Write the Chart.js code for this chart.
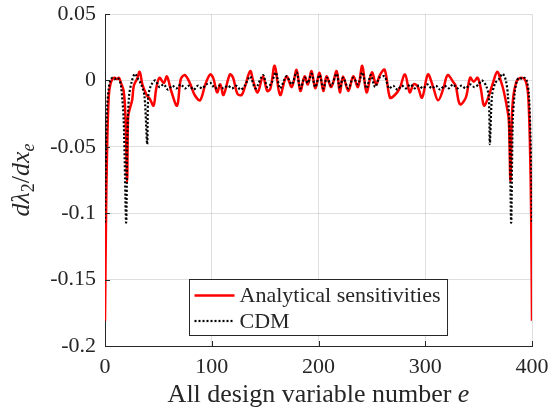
<!DOCTYPE html>
<html>
<head>
<meta charset="utf-8">
<script src="https://cdn.jsdelivr.net/npm/chart.js@4"></script>
<style>
  html, body { margin: 0; padding: 0; background: #fff; }
  canvas { display: block; }
</style>
</head>
<body>
<canvas id="chart" width="556" height="415"></canvas>
<script>
// values (element number e vs. d lambda_2 / d x_e)
const redX = [0, 1, 2, 3.5, 5, 7, 9, 11, 13, 15, 17.5, 19.2, 20.7, 21.6, 23, 25.4, 27, 30, 32.5, 35,
  39, 42, 45.5, 48, 51, 55, 58, 62, 67.5, 71, 75, 80, 84, 89, 94, 98.5, 101.5, 105, 108, 111,
  117, 120, 124, 128, 131, 136, 139, 143, 148, 152, 155, 159, 164, 170, 175, 179.5, 183, 187, 190, 193.5,
  197, 201, 204.5, 207.5, 212, 217, 220, 223, 228, 232.5, 237, 241, 245, 250, 254, 257.5, 262, 267, 271.5, 276,
  281, 285.5, 289, 292.5, 297, 302.5, 307, 312, 317, 321, 326, 328.5, 332.5, 338, 342, 345.5, 349, 352, 355, 358.5,
  363, 367.5, 371, 373.5, 376.5, 378.3, 379.8, 381, 382.5, 385, 387, 390, 393, 395, 396.5, 398, 399.2, 400]
const redY = [-0.181, -0.1, -0.05, -0.012, -0.003, 0.001, 0.002, 0.001, 0.002, -0.002, -0.008, -0.028, -0.076, -0.028, -0.022, -0.015, -0.004, 0.001, 0.0065, -0.003,
  -0.011, -0.014, -0.019, -0.006, 0.002, -0.002, 0.003, -0.008, -0.019, 0.001, 0.004, -0.003, -0.011, -0.015, -0.003, 0.0045, 0.0015, -0.009, -0.003, -0.011,
  0.0045, 0.002, -0.01, -0.011, -0.005, 0.007, -0.001, -0.009, 0.003, -0.008, -0.006, 0.011, -0.011, 0.003, -0.005, 0.008, -0.008, 0.003, -0.003, 0.007,
  -0.006, 0.0057, -0.008, 0.003, -0.005, 0.007, -0.009, 0.003, -0.008, 0.003, -0.005, 0.011, -0.009, 0.006, -0.003, 0.004, 0.008, -0.013, -0.011, -0.006,
  0.0045, -0.009, -0.003, -0.004, -0.013, 0.0045, -0.004, -0.015, -0.006, 0.004, -0.001, -0.004, -0.018, -0.013, 0.002, -0.001, 0.002, -0.006, -0.019, -0.014,
  -0.003, 0.0065, -0.001, -0.008, -0.02, -0.03, -0.076, -0.03, -0.012, -0.002, 0.001, 0.002, 0.001, -0.003, -0.012, -0.045, -0.1, -0.181]

const cdmX = [0, 1, 2, 3.5, 5, 7, 9, 11, 13, 15, 17.5, 19.8, 21, 22.5, 25, 28, 31, 34, 37, 39.5,
  40.5, 43, 47, 51, 55, 59, 63, 67, 71, 75, 79, 83, 87, 91, 95, 99, 103, 107, 111, 115,
  119, 123, 127, 131, 136, 141, 148, 152, 156, 160, 164, 170, 175, 179.5, 183, 187, 190, 193.5, 197, 201,
  204.5, 208, 212, 217, 220, 223, 228, 232.5, 237, 241, 245, 249, 253, 257, 262, 266, 270, 274, 278, 282,
  286, 290, 294, 298, 302, 306, 310, 314, 318, 322, 326, 330, 334, 338, 342, 346, 350, 353, 357, 359.5,
  360.5, 362.5, 365.5, 369, 372.5, 375.5, 377.5, 379, 380.5, 382, 384, 386, 388, 391, 393, 395, 397, 398.5, 399.3, 400]
const cdmY = [-0.107, -0.05, -0.02, -0.006, 0, 0.002, 0.001, 0.002, 0.001, -0.004, -0.03, -0.107, -0.04, -0.012, -0.001, 0.005, 0.001, -0.003, -0.012, -0.048,
  -0.012, -0.004, 0, -0.005, -0.003, -0.007, -0.004, -0.006, -0.003, -0.006, -0.004, -0.007, -0.004, -0.006, -0.003, -0.002, -0.006, -0.004, -0.006, -0.004,
  -0.006, -0.004, -0.007, -0.004, 0.003, -0.006, 0.004, -0.005, -0.002, 0.006, -0.006, 0.003, -0.003, 0.006, -0.006, 0.002, -0.002, 0.005, -0.005, 0.004,
  -0.006, 0.002, -0.004, 0.005, -0.006, 0.002, -0.006, 0.002, -0.003, 0.006, -0.006, 0.004, -0.005, 0.002, 0.003, -0.006, -0.004, -0.007, -0.004, -0.006,
  -0.003, -0.006, -0.004, -0.006, -0.003, -0.006, -0.004, -0.007, -0.004, -0.006, -0.003, -0.006, -0.004, -0.006, -0.003, -0.005, -0.003, 0, -0.004, -0.012,
  -0.048, -0.012, -0.002, 0.001, 0.005, 0, -0.012, -0.04, -0.107, -0.03, -0.008, 0, 0.002, 0.001, 0.002, 0, -0.01, -0.04, -0.07, -0.107]

const xTicks = [0, 100, 200, 300, 400]
const yTicks = [-0.2, -0.15, -0.1, -0.05, 0, 0.05]
const seriesLabels = ['Analytical sensitivities', 'CDM']

const serif = '"Liberation Serif", "Times New Roman", serif'
const ink = '#262626'
const gridColor = 'rgba(38,38,38,0.15)'

function points (xs, ys) {
  return xs.map((x, i) => ({ x: x, y: ys[i] }))
}

function fmt (v) {
  return String(Number(v.toFixed(2)))
}

// draws a run of [text, font, dy] pieces starting at x, returns the end x
function run (ctx, pieces, x) {
  pieces.forEach((p) => {
    ctx.font = p[1]
    ctx.fillText(p[0], x, p[2])
    x += ctx.measureText(p[0]).width
  })
  return x
}

function runWidth (ctx, pieces) {
  let w = 0
  pieces.forEach((p) => {
    ctx.font = p[1]
    w += ctx.measureText(p[0]).width
  })
  return w
}

const decorations = {
  id: 'decorations',
  afterDraw (chart) {
    const ctx = chart.ctx
    const area = chart.chartArea
    const sx = chart.scales.x
    const sy = chart.scales.y
    ctx.save()

    // inward tick marks, as in the original axes
    ctx.strokeStyle = ink
    ctx.lineWidth = 1
    ctx.beginPath()
    xTicks.forEach((v) => {
      const px = Math.round(sx.getPixelForValue(v)) + 0.5
      ctx.moveTo(px, area.bottom)
      ctx.lineTo(px, area.bottom - 5)
    })
    yTicks.forEach((v) => {
      const py = Math.round(sy.getPixelForValue(v)) + 0.5
      ctx.moveTo(area.left, py)
      ctx.lineTo(area.left + 5, py)
    })
    ctx.stroke()

    ctx.fillStyle = ink
    ctx.textBaseline = 'alphabetic'
    ctx.textAlign = 'left'

    // x axis title
    const big = '26px ' + serif
    const bigIt = 'italic 26px ' + serif
    const xt = [['All design variable number ', big, 0], ['e', bigIt, 0]]
    const xw = runWidth(ctx, xt)
    const cx = (area.left + area.right) / 2
    ctx.save()
    ctx.translate(cx - xw / 2, 402)
    run(ctx, xt, 0)
    ctx.restore()

    // y axis title
    const sub = '18px ' + serif
    const subIt = 'italic 18px ' + serif
    const yt = [['d', bigIt, 0], ['λ', bigIt, 0], ['2', sub, 5], ['/', big, 0], ['dx', bigIt, 0], ['e', subIt, 5]]
    const yw = runWidth(ctx, yt)
    ctx.save()
    ctx.translate(29, (area.top + area.bottom) / 2)
    ctx.rotate(-Math.PI / 2)
    run(ctx, yt, -yw / 2)
    ctx.restore()

    // legend box, bottom centre of the axes
    const lf = '22px ' + serif
    ctx.font = lf
    const tw = Math.max(...seriesLabels.map((s) => ctx.measureText(s).width))
    const bw = 5 + 40 + 5 + tw + 7
    const bh = 56
    const bx = Math.round(cx - bw / 2) + 0.5
    const by = Math.round(area.bottom - 11 - bh) + 0.5
    ctx.fillStyle = '#ffffff'
    ctx.fillRect(bx, by, bw, bh)
    ctx.strokeStyle = ink
    ctx.lineWidth = 1
    ctx.strokeRect(bx, by, bw, bh)

    chart.data.datasets.forEach((ds, i) => {
      const ly = by + 16 + i * 25.5
      ctx.save()
      ctx.strokeStyle = ds.borderColor
      ctx.lineWidth = ds.borderWidth
      ctx.setLineDash(ds.borderDash || [])
      ctx.beginPath()
      ctx.moveTo(bx + 5, ly)
      ctx.lineTo(bx + 45, ly)
      ctx.stroke()
      ctx.restore()
      ctx.fillStyle = ink
      ctx.font = lf
      ctx.textBaseline = 'middle'
      ctx.fillText(ds.label, bx + 50, ly + 1)
    })

    ctx.restore()
  }
}

const chart = new Chart(document.getElementById('chart').getContext('2d'), {
  type: 'line',
  data: {
    datasets: [
      {
        label: seriesLabels[0],
        data: points(redX, redY),
        borderColor: '#ff0000',
        borderWidth: 2.5,
        pointRadius: 0,
        tension: 0.35,
        order: 2
      },
      {
        label: seriesLabels[1],
        data: points(cdmX, cdmY),
        borderColor: '#000000',
        borderWidth: 2.2,
        borderDash: [2, 2],
        pointRadius: 0,
        tension: 0.3,
        order: 1
      }
    ]
  },
  options: {
    responsive: false,
    animation: false,
    devicePixelRatio: 1,
    layout: {
      padding: { left: 0, right: 24, top: 14, bottom: 0 }
    },
    plugins: {
      legend: { display: false },
      tooltip: { enabled: false }
    },
    scales: {
      x: {
        type: 'linear',
        min: 0,
        max: 400,
        afterBuildTicks: (s) => { s.ticks = xTicks.map((v) => ({ value: v })) },
        afterFit: (s) => {
          s.height = 69
          s.paddingLeft = 0
          s.paddingRight = 0
        },
        grid: { color: gridColor, drawTicks: false },
        border: { color: ink, width: 1 },
        ticks: {
          color: ink,
          padding: 8,
          maxRotation: 0,
          font: { family: serif, size: 22 }
        }
      },
      y: {
        type: 'linear',
        min: -0.2,
        max: 0.05,
        afterBuildTicks: (s) => { s.ticks = yTicks.map((v) => ({ value: v })) },
        afterFit: (s) => {
          s.width = 105
          s.paddingTop = 0
          s.paddingBottom = 0
        },
        grid: { color: gridColor, drawTicks: false },
        border: { color: ink, width: 1 },
        ticks: {
          color: ink,
          padding: 9,
          font: { family: serif, size: 22 },
          callback: (v) => fmt(v)
        }
      }
    }
  },
  plugins: [decorations]
})
</script>
</body>
</html>
